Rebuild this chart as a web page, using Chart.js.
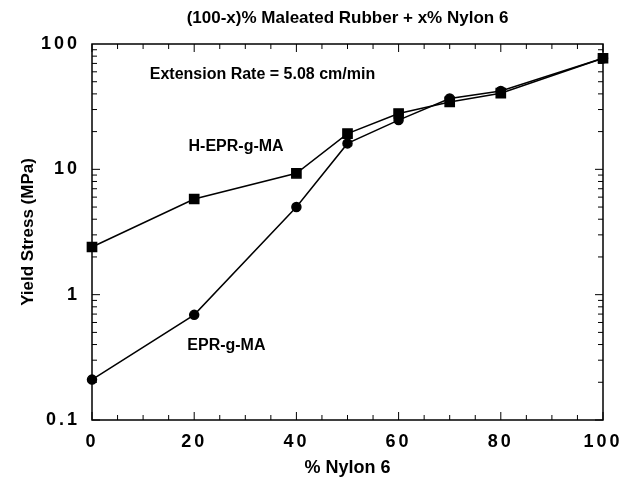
<!DOCTYPE html>
<html>
<head>
<meta charset="utf-8">
<script src="https://cdn.jsdelivr.net/npm/chart.js@4"></script>
<style>
  html, body { margin: 0; padding: 0; background: #fff; }
  #wrap { width: 631px; height: 486px; }
</style>
</head>
<body>
<div id="wrap"><canvas id="c"></canvas></div>
<script>
const nylon = [0, 20, 40, 50, 60, 70, 80, 100];
const hEprValues = [2.4, 5.8, 9.3, 19.3, 27.9, 34.5, 40.5, 77];
const eprValues = [0.21, 0.69, 5.0, 16.1, 24.7, 36.7, 42.2, 77];
const yTickValues = [0.1, 1, 10, 100];
const xTickValues = [0, 20, 40, 60, 80, 100];

const FONT = "'Liberation Sans', Arial, sans-serif";

const toPoints = (vals) => nylon.map((x, i) => ({ x, y: vals[i] }));

// text, inward ticks and frame
const decor = {
  id: "decor",
  beforeDraw(chart) {
    chart.ctx.letterSpacing = "3px";
  },
  afterDatasetsDraw(chart) {
    const { ctx, chartArea: a } = chart;
    const xs = chart.scales.x, ys = chart.scales.y;
    ctx.save();
    ctx.letterSpacing = "0px";
    ctx.strokeStyle = "#000";
    ctx.lineWidth = 1;
    ctx.beginPath();
    for (let v = 0; v <= 100; v += 5) {
      const px = xs.getPixelForValue(v);
      const len = v % 20 === 0 ? 8 : 5;
      ctx.moveTo(px, a.bottom); ctx.lineTo(px, a.bottom - len);
      ctx.moveTo(px, a.top); ctx.lineTo(px, a.top + len);
    }
    for (let d = 0.1; d < 100; d *= 10) {
      for (let m = 1; m < 10; m++) {
        const py = ys.getPixelForValue(d * m);
        const len = m === 1 ? 8 : 5;
        ctx.moveTo(a.left, py); ctx.lineTo(a.left + len, py);
        ctx.moveTo(a.right, py); ctx.lineTo(a.right - len, py);
      }
    }
    ctx.stroke();
    ctx.lineWidth = 1.5;
    ctx.strokeRect(a.left, a.top, a.right - a.left, a.bottom - a.top);
    ctx.restore();
  },
  afterDraw(chart) {
    const { ctx, chartArea: a } = chart;
    const xs = chart.scales.x, ys = chart.scales.y;
    ctx.save();
    ctx.letterSpacing = "0px";
    ctx.fillStyle = "#000";
    ctx.textBaseline = "middle";
    ctx.textAlign = "center";
    ctx.font = "bold 17px " + FONT;
    ctx.fillText("(100-x)% Maleated Rubber + x% Nylon 6", (a.left + a.right) / 2, 18);
    ctx.font = "bold 18px " + FONT;
    ctx.fillText("% Nylon 6", (a.left + a.right) / 2, 468);
    ctx.font = "bold 16px " + FONT;
    ctx.fillText("H-EPR-g-MA", xs.getPixelForValue(28.2), ys.getPixelForValue(15.3));
    ctx.fillText("EPR-g-MA", xs.getPixelForValue(26.3), ys.getPixelForValue(0.39));
    ctx.textAlign = "left";
    ctx.fillText("Extension Rate = 5.08 cm/min", xs.getPixelForValue(11.3), ys.getPixelForValue(57.4));
    ctx.translate(28, (a.top + a.bottom) / 2);
    ctx.rotate(-Math.PI / 2);
    ctx.textAlign = "center";
    ctx.font = "bold 17px " + FONT;
    ctx.fillText("Yield Stress (MPa)", 0, 0);
    ctx.restore();
  }
};

new Chart(document.getElementById("c"), {
  type: "line",
  data: {
    datasets: [
      {
        label: "H-EPR-g-MA",
        data: toPoints(hEprValues),
        borderColor: "#000",
        backgroundColor: "#000",
        borderWidth: 1.5,
        pointStyle: "rect",
        pointRadius: 6.5,
        pointHoverRadius: 6.5,
        tension: 0,
        clip: false,
      },
      {
        label: "EPR-g-MA",
        data: toPoints(eprValues),
        borderColor: "#000",
        backgroundColor: "#000",
        borderWidth: 1.5,
        pointStyle: "circle",
        pointRadius: 4.5,
        pointHoverRadius: 4.5,
        tension: 0,
        clip: false,
      },
    ],
  },
  options: {
    responsive: true,
    maintainAspectRatio: false,
    animation: false,
    events: [],
    layout: { padding: { left: 0, right: 28, top: 44, bottom: 0 } },
    plugins: {
      legend: { display: false },
      tooltip: { enabled: false },
      title: { display: false },
    },
    scales: {
      x: {
        type: "linear",
        min: 0,
        max: 100,
        afterBuildTicks: (s) => { s.ticks = xTickValues.map((v) => ({ value: v })); },
        afterFit: (s) => { s.height = 66; },
        grid: { display: false, drawTicks: false },
        border: { display: false },
        ticks: {
          padding: 11,
          color: "#000",
          font: { family: FONT, size: 18, weight: "bold" },
          maxRotation: 0,
        },
      },
      y: {
        type: "logarithmic",
        min: 0.1,
        max: 100,
        afterBuildTicks: (s) => { s.ticks = yTickValues.map((v) => ({ value: v })); },
        afterFit: (s) => { s.width = 92; },
        grid: { display: false, drawTicks: false },
        border: { display: false },
        ticks: {
          padding: 12,
          color: "#000",
          font: { family: FONT, size: 18, weight: "bold" },
          callback: (v) => String(v),
        },
      },
    },
  },
  plugins: [decor],
});
</script>
</body>
</html>
